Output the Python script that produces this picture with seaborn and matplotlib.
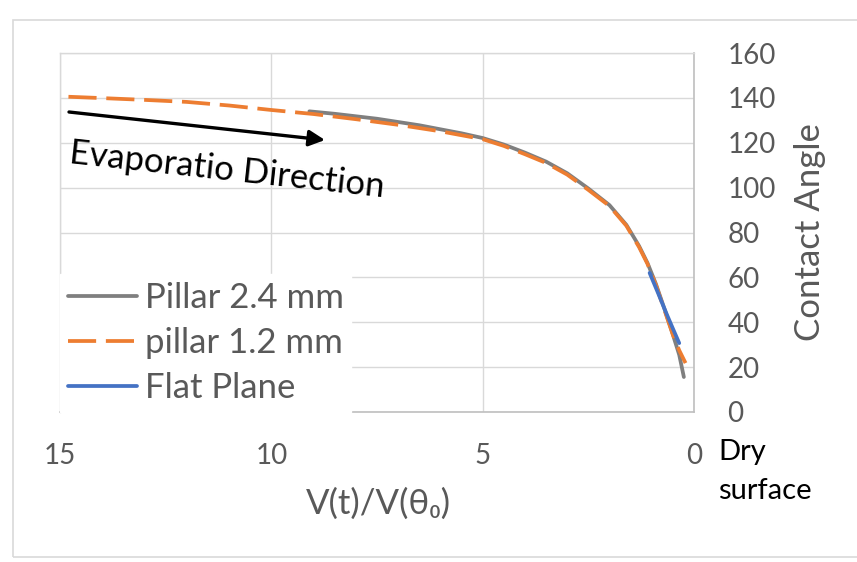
import matplotlib
matplotlib.use("Agg")
import matplotlib.pyplot as plt
from matplotlib.patches import Rectangle
import pandas as pd
import seaborn as sns

# Data
pillar24_x = [9.1, 8.5, 7.5, 6.5, 5.5, 5.0, 4.5, 4.0, 3.5, 3.0, 2.5, 2.0, 1.6, 1.3, 1.1, 0.9, 0.7, 0.5, 0.35, 0.24]
pillar24_y = [134.0, 132.9, 130.7, 127.8, 124.2, 122.1, 119.2, 115.6, 111.6, 106.4, 99.6, 92.2, 83.4, 74.0, 66.4, 57.0, 46.0, 34.5, 25.5, 15.6]

pillar12_x = [14.8, 14.0, 13.0, 12.0, 11.0, 10.0, 9.0, 8.0, 7.0, 6.0, 5.0, 4.5, 4.0, 3.5, 3.0, 2.5, 2.0, 1.6, 1.3, 1.1, 0.9, 0.7, 0.5, 0.35, 0.2]
pillar12_y = [140.5, 139.9, 139.1, 138.2, 136.6, 134.6, 132.8, 130.5, 128.0, 125.1, 121.6, 118.6, 114.9, 111.0, 105.8, 99.0, 91.8, 83.0, 73.5, 66.0, 56.5, 45.5, 34.5, 27.5, 21.8]

flat_x = [1.05, 0.85, 0.65, 0.5, 0.35]
flat_y = [62.0, 53.0, 43.8, 37.2, 30.7]

series_names = ["Pillar 2.4 mm", "pillar 1.2 mm", "Flat Plane"]
series_colors = ["#7f7f7f", "#ed7d31", "#4472c4"]

x_ticks = [15, 10, 5, 0]
y_ticks = [0, 20, 40, 60, 80, 100, 120, 140, 160]

df = pd.concat([
    pd.DataFrame({"x": pillar24_x, "y": pillar24_y, "series": series_names[0]}),
    pd.DataFrame({"x": pillar12_x, "y": pillar12_y, "series": series_names[1]}),
    pd.DataFrame({"x": flat_x, "y": flat_y, "series": series_names[2]}),
])

sns.set_style("white")
plt.rcParams["font.family"] = ["Lato", "DejaVu Sans"]

BIG = 25
TICK = 20

fig = plt.figure(figsize=(8.57, 5.62), dpi=100)
ax = fig.add_axes([60 / 857, 1 - 412 / 562, 634 / 857, 359 / 562])

# outer chart border
fig.patches.append(Rectangle((13 / 857, 1 - 557 / 562), 1.0, 537 / 562,
                             transform=fig.transFigure, fill=False,
                             edgecolor="#d9d9d9", linewidth=1.2, zorder=0))

sns.lineplot(data=df, x="x", y="y", hue="series", style="series",
             palette=dict(zip(series_names, series_colors)),
             dashes={series_names[0]: "", series_names[1]: (7.5, 2.6), series_names[2]: ""},
             estimator=None, sort=False, linewidth=2.7, ax=ax, legend=True)

ax.set_xlim(15, 0)
ax.set_ylim(0, 160)
ax.set_xticks(x_ticks)
ax.set_yticks(y_ticks)
ax.yaxis.tick_right()
ax.yaxis.set_label_position("right")
ax.grid(True, color="#d9d9d9", linewidth=1.0)
ax.set_axisbelow(True)
for side in ["left", "top"]:
    ax.spines[side].set_color("#d9d9d9")
    ax.spines[side].set_linewidth(1.0)
for side in ["right", "bottom"]:
    ax.spines[side].set_color("#bfbfbf")
    ax.spines[side].set_linewidth(1.2)

ax.tick_params(axis="x", length=0, pad=22, labelsize=TICK, labelcolor="#595959")
ax.tick_params(axis="y", length=0, pad=24, labelsize=TICK, labelcolor="#595959")

ax.set_xlabel("V(t)/V(θ₀)", fontsize=BIG, color="#595959")
ax.xaxis.label.set_verticalalignment("center")
ax.xaxis.set_label_coords((378 - 60) / 634, -(504 - 412) / 359)
ax.set_ylabel("Contact Angle", fontsize=BIG, color="#595959")
ax.yaxis.label.set_verticalalignment("center")
ax.yaxis.set_label_coords((810 - 60) / 634, (412 - 232) / 359)

handles, labels = ax.get_legend_handles_labels()
leg = ax.legend(handles, labels, loc="lower left", bbox_to_anchor=(0, 0),
                borderaxespad=0, fontsize=BIG, frameon=True, fancybox=False,
                handlelength=2.0, handletextpad=0.22, labelspacing=0.38,
                borderpad=0.22)
leg.get_frame().set_edgecolor("white")
leg.get_frame().set_facecolor("white")
leg.get_frame().set_alpha(1)
for t in leg.get_texts():
    t.set_color("#595959")
for h in leg.get_lines():
    h.set_linewidth(2.7)

# evaporation direction arrow and label
ax.annotate("", xy=((694 - 325) / 634 * 15, (412 - 140) / 359 * 160),
            xytext=((694 - 69) / 634 * 15, (412 - 112) / 359 * 160),
            arrowprops=dict(arrowstyle="-|>", color="black", lw=2.4,
                            mutation_scale=24, shrinkA=0, shrinkB=0))
ax.text((694 - 69) / 634 * 15, (412 - 163) / 359 * 160, "Evaporatio Direction",
        rotation=-6.2, rotation_mode="anchor",
        ha="left", va="baseline", fontsize=BIG, color="black")

fig.text(718 / 857, 1 - 452 / 562, "Dry", fontsize=21, color="black", va="center", ha="left")
fig.text(718 / 857, 1 - 491 / 562, "surface", fontsize=21, color="black", va="center", ha="left")

fig.savefig("out.png", dpi=100)
